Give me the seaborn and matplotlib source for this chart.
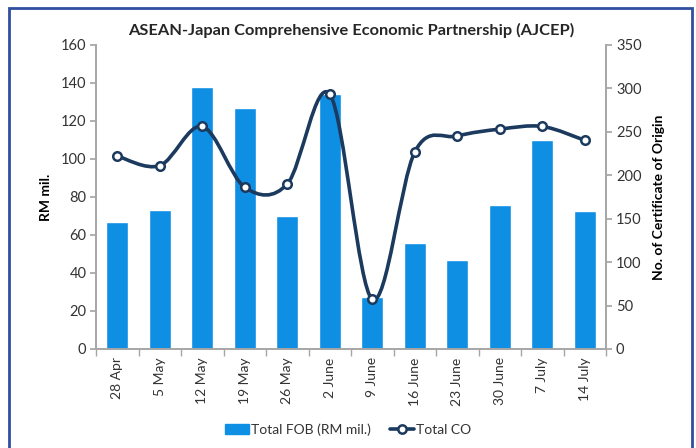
import numpy as np
import pandas as pd
import matplotlib.pyplot as plt
import seaborn as sns
from matplotlib.path import Path
from matplotlib.patches import PathPatch, Rectangle
from matplotlib.lines import Line2D

weeks = ["28 Apr", "5 May", "12 May", "19 May", "26 May", "2 June",
         "9 June", "16 June", "23 June", "30 June", "7 July", "14 July"]
total_fob = [67, 73, 138, 127, 70, 134, 27.5, 56, 47, 76, 110, 72.5]
total_co = [222, 211, 256, 186, 190, 293, 57, 227, 245, 253, 256, 240]

BAR_COLOR = "#0F8FE4"
LINE_COLOR = "#1B3A5E"
GRID_GRAY = "#A6A6A6"
TEXT_COLOR = "#333333"

sns.set_theme(style="white")
plt.rcParams["font.family"] = ["Lato", "DejaVu Sans"]

df = pd.DataFrame({"week": weeks, "fob": total_fob, "co": total_co})

fig = plt.figure(figsize=(6.96, 4.48), dpi=100)
ax = fig.add_axes([0.138, 0.221, 0.733, 0.679])

sns.barplot(data=df, x="week", y="fob", color=BAR_COLOR, width=0.52,
            saturation=1, ax=ax)
ax.set_ylim(0, 160)
ax.set_xlim(-0.5, len(weeks) - 0.5)
ax.set_yticks(range(0, 161, 20))
ax.set_xlabel("")
ax.set_ylabel("RM mil.", fontsize=10, fontweight="bold", labelpad=6,
              color="black")
ax.tick_params(axis="x", rotation=90, labelsize=10, length=0, pad=6,
               labelcolor=TEXT_COLOR)
ax.tick_params(axis="y", labelsize=10.5, length=4, color=GRID_GRAY,
               left=True, pad=3, labelcolor=TEXT_COLOR)
ax.set_xticks(np.arange(-0.5, len(weeks), 1), minor=True)
ax.tick_params(axis="x", which="minor", bottom=True, length=5,
               color=GRID_GRAY)
ax.spines["top"].set_visible(False)
for side in ["left", "bottom", "right"]:
    ax.spines[side].set_color(GRID_GRAY)
    ax.spines[side].set_linewidth(1.2)

ax2 = ax.twinx()
ax2.set_ylim(0, 350)
ax2.set_yticks(range(0, 351, 50))
ax2.tick_params(axis="y", labelsize=10.5, length=4, color=GRID_GRAY,
                right=True, pad=3, labelcolor=TEXT_COLOR)
ax2.set_ylabel("No. of Certificate of Origin", fontsize=10,
               fontweight="bold", labelpad=8, color="black")
ax2.spines["top"].set_visible(False)
for side in ["left", "bottom", "right"]:
    ax2.spines[side].set_color(GRID_GRAY)
    ax2.spines[side].set_linewidth(1.2)

# smoothed line like a spreadsheet "smooth line" (Catmull-Rom Bezier)
x = np.arange(len(total_co), dtype=float)
y = np.array(total_co, dtype=float)
verts = [(x[0], y[0])]
codes = [Path.MOVETO]
n = len(x)
for i in range(n - 1):
    p0 = (x[i - 1], y[i - 1]) if i > 0 else (x[i], y[i])
    p1 = (x[i], y[i])
    p2 = (x[i + 1], y[i + 1])
    p3 = (x[i + 2], y[i + 2]) if i + 2 < n else p2
    c1 = (p1[0] + (p2[0] - p0[0]) / 6, p1[1] + (p2[1] - p0[1]) / 6)
    c2 = (p2[0] - (p3[0] - p1[0]) / 6, p2[1] - (p3[1] - p1[1]) / 6)
    verts += [c1, c2, p2]
    codes += [Path.CURVE4] * 3
ax2.add_patch(PathPatch(Path(verts, codes), facecolor="none",
                        edgecolor=LINE_COLOR, lw=2.6, zorder=3))
sns.scatterplot(x=x, y=y, ax=ax2, marker="o", s=38, color="white",
                edgecolor=LINE_COLOR, linewidth=1.8, zorder=4, legend=False)

ax.set_title("ASEAN-Japan Comprehensive Economic Partnership (AJCEP)",
             fontsize=11.8, fontweight="bold", pad=7)

handles = [
    Rectangle((0, 0), 1, 1, color=BAR_COLOR),
    Line2D([0], [0], color=LINE_COLOR, lw=2.6, marker="o",
           markerfacecolor="white", markeredgecolor=LINE_COLOR,
           markersize=6, markeredgewidth=1.8),
]
fig.legend(handles, ["Total FOB (RM mil.)", "Total CO"], loc="lower center",
           bbox_to_anchor=(0.5, 0.0), ncol=2, frameon=False, fontsize=10,
           handlelength=1.7, handletextpad=0.15, columnspacing=1.4,
           labelcolor=TEXT_COLOR)

fig.patches.append(Rectangle((9 / 696, -0.02), 683 / 696, 1.0 - 8 / 448 + 0.02,
                             transform=fig.transFigure, fill=False,
                             edgecolor="#2F4EA0", lw=2))

fig.savefig("out.png", dpi=100)
